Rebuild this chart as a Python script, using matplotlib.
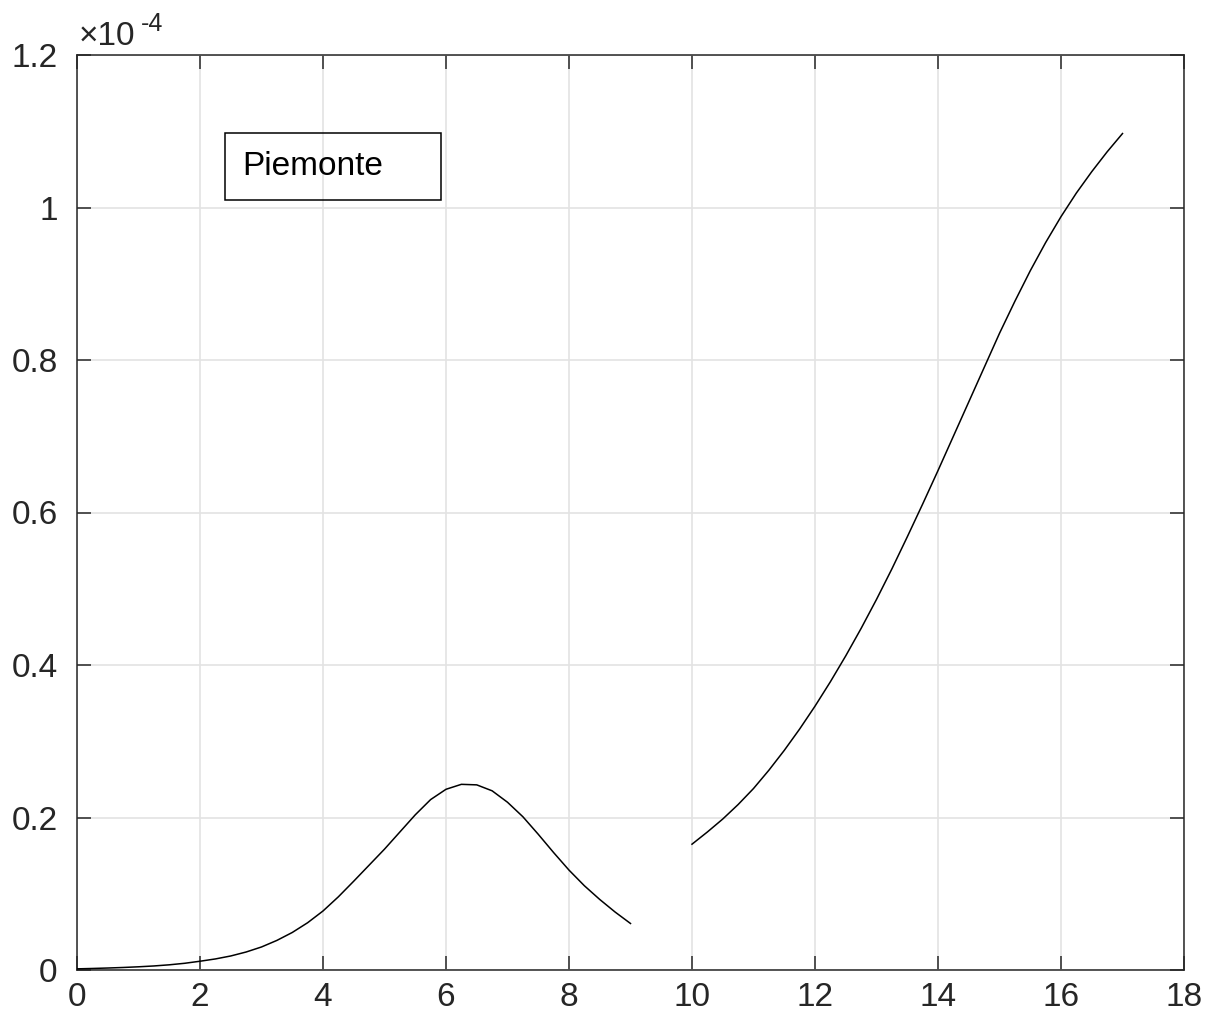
import matplotlib as mpl
import matplotlib.pyplot as plt
from matplotlib.patches import Rectangle

mpl.rcParams.update({
    "font.family": ["Liberation Sans", "DejaVu Sans"],
    "font.size": 24,
})

# values (units of 1e-4)
x_first = [0, 0.25, 0.5, 0.75, 1, 1.25, 1.5, 1.75, 2, 2.25, 2.5, 2.75, 3, 3.25, 3.5,
           3.75, 4, 4.25, 4.5, 4.75, 5, 5.25, 5.5, 5.75, 6, 6.25, 6.5, 6.75, 7, 7.25,
           7.5, 7.75, 8, 8.25, 8.5, 8.75, 9]
y_first = [0.0015, 0.002, 0.0026, 0.0033, 0.0042, 0.0053, 0.0068, 0.0088, 0.0115,
           0.0145, 0.0184, 0.0236, 0.0302, 0.0388, 0.0492, 0.0620, 0.0774, 0.0960,
           0.1165, 0.1375, 0.1585, 0.1810, 0.2035, 0.2235, 0.2370, 0.2435, 0.2428,
           0.2350, 0.2200, 0.2010, 0.1780, 0.1540, 0.1310, 0.1105, 0.0925, 0.0760,
           0.0610]

x_second = [10, 10.25, 10.5, 10.75, 11, 11.25, 11.5, 11.75, 12, 12.25, 12.5, 12.75,
            13, 13.25, 13.5, 13.75, 14, 14.25, 14.5, 14.75, 15, 15.25, 15.5, 15.75,
            16, 16.25, 16.5, 16.75, 17]
y_second = [0.165, 0.181, 0.198, 0.217, 0.238, 0.262, 0.288, 0.316, 0.346, 0.378,
            0.412, 0.448, 0.486, 0.526, 0.568, 0.611, 0.655, 0.700, 0.745, 0.790,
            0.835, 0.877, 0.917, 0.954, 0.988, 1.019, 1.047, 1.073, 1.097]

x_ticks = [0, 2, 4, 6, 8, 10, 12, 14, 16, 18]
y_ticks = [0, 0.2, 0.4, 0.6, 0.8, 1, 1.2]
region = "Piemonte"

W, H = 1210, 1030
fig = plt.figure(figsize=(W / 100, H / 100), dpi=100, facecolor="white")
ax = fig.add_axes([77 / W, 60 / H, (1184 - 77) / W, (970 - 55) / H])

ax.plot(x_first, y_first, color="black", lw=1.1, zorder=3)
ax.plot(x_second, y_second, color="black", lw=1.1, zorder=3)

ax.set_xlim(0, 18)
ax.set_ylim(0, 1.2)
ax.set_xticks(x_ticks)
ax.set_yticks(y_ticks)
ax.set_xticklabels([f"{v:g}" for v in x_ticks])
ax.set_yticklabels([f"{v:g}" for v in y_ticks])
ax.grid(True, color="#e3e3e3", lw=1.2)
ax.set_axisbelow(True)
ax.tick_params(direction="in", length=10, width=1.1, color="#262626",
               top=True, right=True, labelsize=24, labelcolor="#262626")
ax.tick_params(axis="y", pad=14)
ax.tick_params(axis="x", pad=9)
for s in ax.spines.values():
    s.set_color("#262626")
    s.set_linewidth(1.1)

# exponent label, MATLAB style
fig.text(79 / W, 1 - 45 / H, "\u00d710", fontsize=24, color="#262626",
         ha="left", va="baseline")
fig.text(141 / W, 1 - 31 / H, "-4", fontsize=18, color="#262626",
         ha="left", va="baseline")

# annotation box
fig.patches.append(Rectangle((225 / W, 1 - 200 / H), (441 - 225) / W, (200 - 133) / H,
                             transform=fig.transFigure, fill=False,
                             edgecolor="black", lw=1.1, zorder=5))
fig.text(242 / W, 1 - 175 / H, region, fontsize=24, color="black",
         ha="left", va="baseline")

fig.savefig("out.png", dpi=100, facecolor="white")
